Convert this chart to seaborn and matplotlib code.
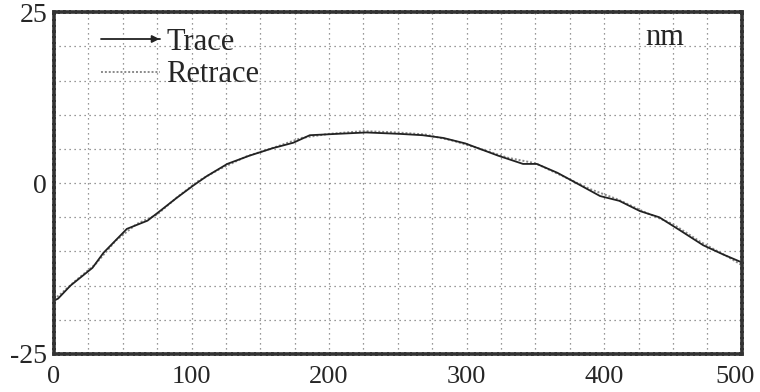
import matplotlib
matplotlib.use("Agg")
import matplotlib.pyplot as plt
import matplotlib.transforms as mtransforms
import seaborn as sns
import numpy as np
import pandas as pd

# scan position (nm along the line) and height (nm)
trace_x = [0, 3, 12, 28, 36, 53, 68, 77, 89, 101, 111, 126, 142, 159, 174,
           186, 206, 227, 251, 268, 283, 299, 323, 341, 351, 366, 377, 397,
           411, 426, 440, 455, 472, 486, 500]
trace_y = [-17.2, -16.9, -15.0, -12.4, -10.2, -6.7, -5.5, -4.1, -2.2, -0.4,
           1.0, 2.8, 4.0, 5.1, 5.9, 7.0, 7.2, 7.4, 7.2, 7.0, 6.6, 5.8, 4.0,
           2.8, 2.8, 1.5, 0.3, -1.9, -2.6, -4.1, -5.0, -6.9, -9.1, -10.4, -11.6]
retrace_x = [0, 5, 15, 30, 45, 60, 75, 90, 105, 120, 140, 160, 180, 200,
             225, 250, 270, 290, 310, 330, 350, 370, 390, 410, 430, 450,
             470, 490, 500]
retrace_y = [-17.0, -16.2, -14.4, -11.9, -8.4, -6.0, -4.6, -2.0, 0.3, 2.0,
             3.9, 5.2, 6.6, 7.2, 7.6, 7.4, 7.1, 6.2, 5.0, 3.7, 2.9, 1.0,
             -0.9, -2.4, -4.3, -6.0, -8.6, -10.8, -12.0]

x_ticks = [0, 100, 200, 300, 400, 500]
y_ticks = [-25, 0, 25]

sns.set_theme(style="white")
plt.rcParams["font.family"] = ["Liberation Serif", "DejaVu Serif"]

fig = plt.figure(figsize=(7.6, 3.92), dpi=100)
ax = fig.add_axes([0.071, 0.097, 0.905, 0.872])

df_t = pd.DataFrame({"x": trace_x, "y": trace_y})
df_r = pd.DataFrame({"x": retrace_x, "y": retrace_y})

sns.lineplot(data=df_r, x="x", y="y", ax=ax, color="#8a8a8a", lw=1.4,
             linestyle=(0, (1, 1)), label="Retrace")
sns.lineplot(data=df_t, x="x", y="y", ax=ax, color="#222222", lw=1.3,
             label="Trace")

ax.set_xlim(0, 500)
ax.set_ylim(-25, 25)
ax.set_xticks(np.arange(0, 501, 25), minor=True)
ax.set_yticks(np.arange(-25, 26, 5), minor=True)
ax.set_xticks(x_ticks)
ax.set_yticks(y_ticks)
ax.set_xticklabels([str(v) for v in x_ticks], fontsize=19)
ax.set_yticklabels([str(v) for v in y_ticks], fontsize=20)
ax.tick_params(axis="both", which="both", length=0)
ax.tick_params(axis="y", pad=5)
ax.tick_params(axis="x", pad=9)
ax.grid(which="both", color="#777777", linestyle=(0, (1, 3)), lw=0.9)
ax.set_xlabel("")
ax.set_ylabel("")

# keep the last x label inside the picture
last = ax.get_xticklabels()[-1]
last.set_transform(last.get_transform() +
                   mtransforms.ScaledTranslation(-5 / 72, 0, fig.dpi_scale_trans))

for s in ax.spines.values():
    s.set_linestyle((0, (1, 0.6)))
    s.set_linewidth(2.6)
    s.set_color("#333333")

# legend: Trace first, Retrace second
h, l = ax.get_legend_handles_labels()
leg = ax.legend(h[::-1], l[::-1], loc="upper left", bbox_to_anchor=(0.028, 1.035),
                frameon=False, fontsize=22, handlelength=1.95, labelspacing=0.12,
                handletextpad=0.2)

# arrow head at the end of the Trace legend line
fig.canvas.draw()
ln = leg.get_lines()[0]
pts = ln.get_transform().transform(np.column_stack(ln.get_data()))
x1, y1 = pts[-1]
ax.annotate("", xy=(x1 + 2, y1), xytext=(x1 - 12, y1), xycoords="figure pixels",
            textcoords="figure pixels",
            arrowprops=dict(arrowstyle="-|>", color="#222222", lw=1.2,
                            mutation_scale=11))

ax.text(0.86, 0.925, "nm", transform=ax.transAxes, fontsize=22, va="center",
        ha="left")

fig.savefig("out.png", dpi=100)
